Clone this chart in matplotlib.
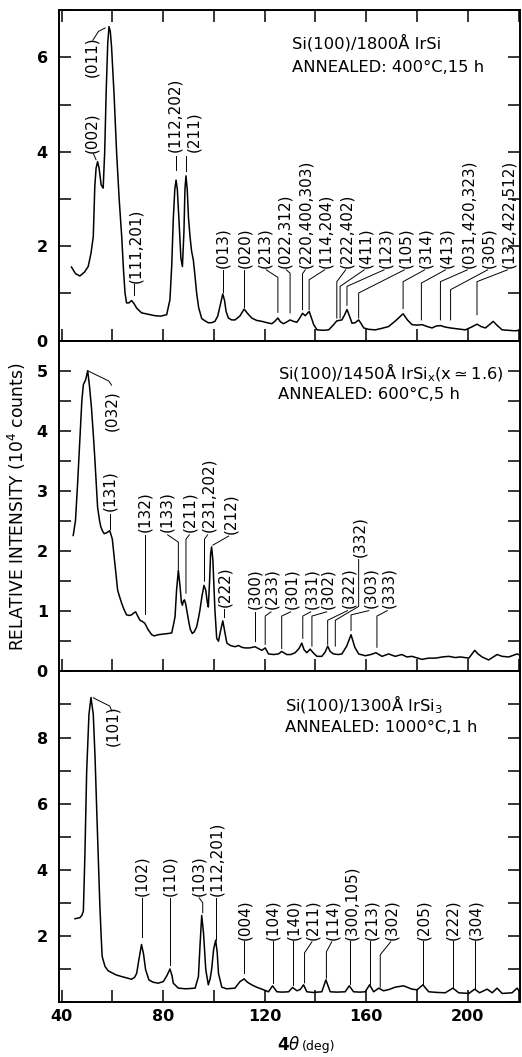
import numpy as np
import matplotlib.pyplot as plt

plt.rcParams['font.family'] = 'DejaVu Sans'
plt.rcParams['mathtext.fontset'] = 'dejavusans'

# ---- traces: 4-theta (deg) vs intensity (10^4 counts) ----
irsi_x = [43.9, 45.5, 47.2, 49.0, 50.5, 51.6, 52.5, 53.1, 53.6, 54.2, 54.8, 55.6, 56.4, 57.0,
          57.6, 58.2, 58.7, 59.2, 59.7, 60.7, 61.7, 62.7, 63.7, 64.4, 65.0, 65.6, 66.5, 67.6,
          68.6, 69.6, 71.5, 74.0, 76.7, 79.0, 81.4, 82.7, 83.4, 84.0, 84.6, 85.1, 85.6, 86.3,
          87.0, 87.6, 88.2, 88.6, 89.0, 89.5, 90.0, 90.6, 91.2, 91.9, 92.5, 93.2, 94.0, 95.2,
          96.5, 97.8, 99.0, 100.4, 101.5, 102.5, 103.5, 104.2, 104.8, 105.7, 107.0, 108.3,
          110.2, 111.9, 113.2, 114.9, 116.8, 118.9, 121.0, 122.8, 123.8, 125.2, 126.2, 127.4,
          128.8, 130.0, 131.3, 132.7, 133.8, 134.9, 136.0, 137.5, 138.3, 139.3, 140.6, 143.0,
          145.2, 146.8, 148.4, 150.4, 151.5, 152.4, 153.4, 154.4, 155.6, 157.0, 158.0, 159.0,
          161.0, 163.6, 166.0, 168.8, 171.5, 174.5, 176.2, 178.0, 180.0, 182.0, 184.0, 185.9,
          187.5, 189.2, 191.0, 193.1, 196.0, 199.0, 201.5, 203.6, 205.2, 206.9, 208.5, 210.0,
          211.6, 213.5, 216.0, 218.5, 220.5]
irsi_y = [1.56, 1.42, 1.37, 1.45, 1.57, 1.85, 2.2, 3.26, 3.65, 3.79, 3.65, 3.30, 3.23, 4.0,
          5.3, 6.3, 6.65, 6.55, 6.22, 5.2, 3.97, 3.0, 2.2, 1.5, 1.01, 0.80, 0.80, 0.85,
          0.78, 0.69, 0.59, 0.56, 0.53, 0.52, 0.55, 0.87, 1.6, 2.56, 3.2, 3.40, 3.2, 2.5,
          1.75, 1.57, 2.3, 3.2, 3.49, 3.2, 2.6, 2.2, 1.9, 1.71, 1.4, 1.01, 0.70, 0.47,
          0.42, 0.38, 0.38, 0.41, 0.52, 0.75, 0.99, 0.85, 0.62, 0.48, 0.44, 0.44,
          0.52, 0.67, 0.58, 0.48, 0.43, 0.41, 0.38, 0.36, 0.40, 0.48, 0.40, 0.36,
          0.40, 0.44, 0.41, 0.39, 0.48, 0.58, 0.53, 0.62, 0.50, 0.34, 0.23, 0.22,
          0.23, 0.32, 0.42, 0.44, 0.55, 0.66, 0.52, 0.37, 0.38, 0.44, 0.36, 0.27,
          0.24, 0.23, 0.26, 0.30, 0.42, 0.57, 0.44, 0.34, 0.33, 0.34, 0.30, 0.27,
          0.31, 0.32, 0.29, 0.27, 0.25, 0.23, 0.29, 0.35, 0.30, 0.27, 0.34, 0.41,
          0.32, 0.23, 0.22, 0.21, 0.22]

irsix_x = [44.6, 45.5, 46.3, 47.2, 48.0, 48.6, 49.5, 50.3, 51.0, 51.8, 52.5, 53.1, 53.7, 54.2,
           55.0, 55.5, 56.2, 56.8, 58.0, 59.0, 60.0, 60.5, 61.0, 61.6, 62.1, 62.8, 63.7, 64.6,
           65.6, 66.6, 67.6, 68.4, 69.2, 70.0, 70.9, 71.8, 72.8, 74.0, 75.5, 76.5, 78.1, 80.0,
           82.0, 83.4, 84.2, 84.7, 85.3, 86.0, 86.7, 87.2, 87.6, 88.0, 88.4, 88.9, 89.3, 90.0,
           90.7, 91.5, 92.3, 93.2, 93.9, 94.5, 95.3, 96.1, 96.8, 97.4, 97.8, 98.3, 98.7, 99.1,
           99.6, 100.0, 100.4, 101.1, 101.8, 102.5, 103.5, 104.3, 105.1, 106.5, 108.3, 109.7,
           111.0, 112.3, 114.0, 116.2, 117.5, 118.9, 120.2, 121.5, 123.5, 125.4, 126.7, 128.7,
           130.3, 132.0, 133.5, 134.6, 135.5, 136.6, 137.9, 139.3, 140.6, 142.5, 143.8, 144.8,
           145.8, 147.1, 149.0, 150.4, 152.3, 154.0, 155.5, 157.0, 159.6, 161.8, 163.8, 166.2,
           168.8, 171.4, 174.0, 176.0, 178.0, 181.9, 184.5, 187.2, 190.0, 192.5, 195.0, 197.1,
           200.4, 202.7, 204.0, 205.6, 208.2, 211.5, 213.5, 216.1, 219.4, 220.5]
irsix_y = [2.26, 2.51, 3.1, 3.83, 4.5, 4.77, 4.85, 5.0, 4.75, 4.38, 3.95, 3.55, 3.1, 2.73,
           2.50, 2.40, 2.33, 2.29, 2.31, 2.34, 2.20, 2.0, 1.79, 1.55, 1.35, 1.25, 1.13, 1.03,
           0.94, 0.93, 0.94, 0.97, 0.99, 0.92, 0.85, 0.83, 0.80, 0.70, 0.61, 0.59, 0.61, 0.62,
           0.63, 0.64, 0.80, 0.91, 1.35, 1.68, 1.40, 1.15, 1.10, 1.17, 1.19, 1.12, 1.02, 0.85,
           0.70, 0.63, 0.66, 0.74, 0.88, 1.02, 1.25, 1.43, 1.35, 1.15, 1.07, 1.50, 1.95, 2.07,
           1.85, 1.45, 1.02, 0.55, 0.50, 0.65, 0.84, 0.65, 0.47, 0.43, 0.41, 0.43,
           0.40, 0.39, 0.39, 0.41, 0.38, 0.35, 0.39, 0.29, 0.28, 0.29, 0.33, 0.28,
           0.28, 0.31, 0.38, 0.47, 0.36, 0.31, 0.37, 0.30, 0.25, 0.25, 0.32, 0.42,
           0.33, 0.29, 0.28, 0.29, 0.42, 0.61, 0.40, 0.29, 0.26, 0.28, 0.31, 0.25,
           0.29, 0.25, 0.28, 0.24, 0.25, 0.20, 0.22, 0.22, 0.24, 0.25, 0.23, 0.24,
           0.22, 0.35, 0.29, 0.24, 0.19, 0.28, 0.25, 0.24, 0.29, 0.27]

irsi3_x = [45.3, 47.2, 48.0, 48.6, 49.2, 49.9, 50.8, 51.6, 52.5, 53.2, 53.8, 54.5, 55.1, 55.6,
           56.0, 57.1, 58.3, 59.7, 61.5, 63.7, 65.6, 67.6, 68.8, 69.6, 70.5, 71.5, 72.3, 73.1,
           74.4, 76.0, 78.1, 80.1, 81.5, 82.7, 83.5, 84.0, 86.0, 89.0, 92.6, 93.9, 94.6, 95.2,
           95.9, 96.8, 97.8, 98.5, 99.1, 99.9, 100.7, 101.3, 101.8, 103.1, 105.0, 108.3, 110.3,
           111.9, 113.2, 114.9, 116.8, 118.9, 121.5, 123.1, 124.8, 127.0, 129.4, 131.0, 132.7,
           134.0, 135.3, 136.6, 139.0, 142.5, 144.1, 145.8, 148.5, 151.7, 153.3, 155.0, 157.5,
           159.6, 161.3, 162.9, 164.9, 166.8, 169.0, 171.4, 174.7, 178.0, 180.0, 182.3, 184.6,
           188.0, 191.1, 194.1, 196.4, 200.4, 202.7, 204.6, 207.6, 209.6, 211.5, 213.5, 217.4,
           219.4, 220.5]
irsi3_y = [2.52, 2.55, 2.62, 2.75, 4.43, 6.97, 8.70, 9.21, 8.70, 7.4, 5.95, 4.3, 2.91, 2.0,
           1.38, 1.08, 0.95, 0.89, 0.82, 0.77, 0.73, 0.69, 0.75, 0.87, 1.30, 1.74, 1.45, 0.98,
           0.67, 0.60, 0.57, 0.62, 0.80, 1.00, 0.80, 0.57, 0.42, 0.40, 0.42, 0.77, 1.80, 2.62,
           2.10, 0.98, 0.52, 0.70, 0.98, 1.60, 1.87, 1.50, 0.87, 0.45, 0.40, 0.42, 0.62,
           0.70, 0.60, 0.52, 0.45, 0.39, 0.31, 0.49, 0.31, 0.30, 0.31, 0.44, 0.34,
           0.38, 0.52, 0.31, 0.29, 0.31, 0.67, 0.31, 0.30, 0.31, 0.49, 0.31, 0.30,
           0.31, 0.52, 0.31, 0.42, 0.34, 0.38, 0.45, 0.49, 0.39, 0.37, 0.52, 0.31,
           0.29, 0.28, 0.42, 0.28, 0.26, 0.39, 0.28, 0.39, 0.28, 0.42, 0.26, 0.28,
           0.42, 0.30]

# ---- peak labels: (label, text x, text bottom y, leader xs, leader ys) ----
irsi_peaks = [
    ("(002)", 51.8, 3.97, [52.6, 53.6], [3.95, 3.83]),
    ("(011)", 51.8, 5.58, [52.3, 54.6, 57.2], [6.36, 6.55, 6.62]),
    ("(111,201)", 69.4, 1.23, [68.5, 68.5], [0.97, 1.20]),
    ("(112,202)", 84.6, 4.0, [85.0, 85.0], [3.61, 3.90]),
    ("(211)", 92.0, 4.0, [89.2, 89.2], [3.60, 3.90]),
    ("(013)", 103.6, 1.54, [103.5, 103.5], [1.03, 1.50]),
    ("(020)", 112.0, 1.54, [112.0, 112.0], [0.72, 1.50]),
    ("(213)", 120.2, 1.54, [125.2, 125.2, 120.6], [0.60, 1.34, 1.50]),
    ("(022,312)", 128.0, 1.54, [130.0, 130.0, 128.5], [0.59, 1.43, 1.50]),
    ("(220,400,303)", 136.2, 1.54, [134.9, 134.9, 136.0], [0.66, 1.42, 1.50]),
    ("(114,204)", 144.1, 1.54, [137.5, 137.5, 143.6], [0.66, 1.29, 1.50]),
    ("(222,402)", 152.4, 1.54, [148.4, 148.4, 151.9], [0.48, 1.25, 1.50]),
    ("(411)", 159.8, 1.54, [149.7, 149.7, 159.2], [0.48, 1.15, 1.50]),
    ("(123)", 167.6, 1.54, [152.4, 152.4, 167.0], [0.75, 1.15, 1.50]),
    ("(105)", 175.6, 1.54, [157.0, 157.0, 175.0], [0.48, 1.01, 1.50]),
    ("(314)", 183.5, 1.54, [174.5, 174.5, 183.0], [0.68, 1.25, 1.50]),
    ("(413)", 191.8, 1.54, [181.7, 181.7, 191.2], [0.44, 1.22, 1.50]),
    ("(031,420,323)", 200.4, 1.54, [189.2, 189.2, 199.8], [0.44, 1.25, 1.50]),
    ("(305)", 208.3, 1.54, [193.2, 193.2, 207.8], [0.44, 1.08, 1.50]),
    ("(132,422,512)", 216.1, 1.54, [203.6, 203.6, 215.6], [0.55, 1.25, 1.50]),
]

irsix_peaks = [
    ("(032)", 59.7, 4.0, [50.3, 58.6, 59.7], [5.0, 4.83, 4.76]),
    ("(131)", 59.1, 2.66, [59.0, 59.0], [2.36, 2.62]),
    ("(132)", 72.9, 2.31, [72.9, 72.9], [0.96, 2.27]),
    ("(133)", 81.4, 2.31, [86.0, 86.0, 81.8], [1.70, 2.15, 2.27]),
    ("(211)", 90.6, 2.31, [89.0, 89.0, 90.3], [1.30, 2.20, 2.27]),
    ("(231,202)", 97.8, 2.31, [96.3, 96.3, 97.5], [1.50, 2.20, 2.27]),
    ("(212)", 106.8, 2.29, [105.8, 99.6], [2.25, 2.10]),
    ("(222)", 104.1, 1.07, [103.8, 103.8], [0.90, 1.03]),
    ("(300)", 116.2, 1.03, [116.2, 116.2], [0.50, 0.99]),
    ("(233)", 122.8, 1.03, [120.2, 120.2, 122.5], [0.45, 0.92, 0.99]),
    ("(301)", 130.7, 1.03, [126.7, 126.7, 130.2], [0.38, 0.92, 0.99]),
    ("(331)", 138.6, 1.03, [135.0, 135.0, 138.1], [0.55, 0.92, 0.99]),
    ("(302)", 144.9, 1.03, [138.6, 138.6, 144.4], [0.42, 0.92, 0.99]),
    ("(322)", 153.1, 1.05, [144.8, 144.8, 152.6], [0.45, 0.85, 1.01]),
    ("(332)", 157.4, 1.90, [147.8, 147.8, 157.0, 157.0], [0.42, 0.85, 1.08, 1.86]),
    ("(303)", 161.6, 1.05, [154.0, 154.0, 161.0], [0.68, 0.94, 1.01]),
    ("(333)", 168.8, 1.05, [164.2, 164.2, 168.3], [0.40, 0.92, 1.01]),
]

irsi3_peaks = [
    ("(101)", 60.2, 7.73, [52.5, 59.0, 59.8], [9.2, 8.95, 8.80]),
    ("(102)", 71.5, 3.21, [71.5, 71.5], [1.98, 3.15]),
    ("(110)", 82.7, 3.21, [82.7, 82.7], [1.13, 3.15]),
    ("(103)", 93.9, 3.21, [95.6, 95.6, 94.2], [2.70, 3.0, 3.15]),
    ("(112,201)", 101.1, 3.21, [100.7, 100.7], [1.89, 3.15]),
    ("(004)", 112.0, 1.88, [111.9, 111.9], [0.88, 1.84]),
    ("(104)", 123.3, 1.88, [123.1, 123.1], [0.58, 1.84]),
    ("(140)", 131.4, 1.88, [131.2, 131.2], [0.52, 1.84]),
    ("(211)", 139.0, 1.88, [135.7, 135.7, 138.6], [0.58, 1.49, 1.82]),
    ("(114)", 146.8, 1.88, [144.3, 144.3, 146.4], [0.72, 1.52, 1.82]),
    ("(300,105)", 154.2, 1.88, [153.7, 153.7], [0.55, 1.84]),
    ("(213)", 162.0, 1.88, [161.6, 161.6], [0.56, 1.84]),
    ("(302)", 170.0, 1.88, [165.5, 165.5, 169.6], [0.45, 1.43, 1.82]),
    ("(205)", 182.6, 1.88, [182.4, 182.4], [0.56, 1.84]),
    ("(222)", 194.1, 1.88, [194.1, 194.1], [0.46, 1.84]),
    ("(304)", 203.1, 1.88, [202.9, 202.9], [0.42, 1.84]),
]

panel_titles = [
    ("Si(100)/1800Å IrSi", "ANNEALED: 400°C,15 h"),
    (r"Si(100)/1450Å IrSi$_\mathrm{x}$(x$\simeq$1.6)", "ANNEALED: 600°C,5 h"),
    (r"Si(100)/1300Å IrSi$_\mathrm{3}$", "ANNEALED: 1000°C,1 h"),
]
y_max = [7, 5.5, 10]
y_step = [1, 0.5, 1]
y_labelled = [[0, 2, 4, 6], [0, 1, 2, 3, 4, 5], [2, 4, 6, 8]]
x_ticks = list(range(40, 221, 20))
x_labelled = [40, 80, 120, 160, 200]

traces = [(irsi_x, irsi_y), (irsix_x, irsix_y), (irsi3_x, irsi3_y)]
peaks = [irsi_peaks, irsix_peaks, irsi3_peaks]
title_pos = [(0.505, 0.885, 0.813), (0.475, 0.883, 0.823), (0.490, 0.878, 0.818)]

fig, axes = plt.subplots(3, 1, figsize=(5.22, 10.57), dpi=100, sharex=True)
fig.subplots_adjust(left=0.113, right=0.996, top=0.9905, bottom=0.052, hspace=0)

for i, ax in enumerate(axes):
    xs, ys = traces[i]
    ax.plot(xs, ys, color="black", lw=1.1)

    for label, tx, ty, lx, ly in peaks[i]:
        ax.plot(lx, ly, color="black", lw=0.7)
        ax.text(tx, ty, label, rotation=90, ha="center", va="bottom", fontsize=11)

    l1, l2 = panel_titles[i]
    px, py1, py2 = title_pos[i]
    ax.text(px, py1, l1, transform=ax.transAxes, fontsize=11.8, va="baseline")
    ax.text(px, py2, l2, transform=ax.transAxes, fontsize=11.8, va="baseline")

    ax.set_xlim(39, 220.5)
    ax.set_ylim(0, y_max[i])
    yt = np.arange(0, y_max[i] + 0.01, y_step[i])
    ax.set_yticks(yt)
    ax.set_yticklabels([f"{t:g}" if t in y_labelled[i] else "" for t in yt],
                       fontweight="bold")
    ax.set_xticks(x_ticks)
    ax.set_xticklabels([str(t) if t in x_labelled else "" for t in x_ticks],
                       fontweight="bold")
    ax.tick_params(axis="both", direction="in", length=8.5, width=1.1,
                   labelsize=11.5, right=True, top=(i == 0))
    ax.tick_params(axis="y", pad=8)
    ax.tick_params(axis="x", pad=5)
    for sp in ax.spines.values():
        sp.set_linewidth(1.4)

fig.text(17 / 522, 1 - 507 / 1057, "RELATIVE INTENSITY (10$^4$ counts)",
         rotation=90, ha="center", va="center", fontsize=12.3)
fig.text(277 / 522, 1 - 1050 / 1057, r"4$\theta$", fontsize=12, fontweight="bold",
         ha="left", va="baseline")
fig.text(302 / 522, 1 - 1050 / 1057, "(deg)", fontsize=9, ha="left", va="baseline")

fig.savefig("out.png", dpi=100)
